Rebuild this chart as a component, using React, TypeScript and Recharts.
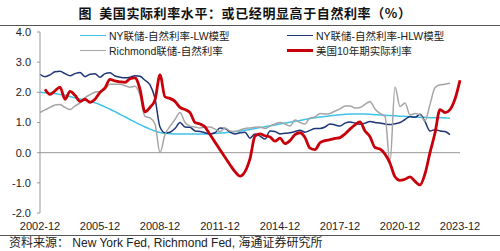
/**
 * @file App.tsx
 * @description US real rate vs. natural rate estimates (quarterly, %).
 */

import {
  LineChart,
  Line,
  XAxis,
  YAxis,
  ReferenceLine,
} from "recharts";

// ─────────────────────────────────────────
// DATA
// ─────────────────────────────────────────

const START_YEAR = 2002;
const QUARTER_COUNT = 85; // 2002-12 … 2023-12

const tickLabels = [
  "2002-12", "2005-12", "2008-12", "2011-12",
  "2014-12", "2017-12", "2020-12", "2023-12",
];

const yTicks = [-2, -1, 0, 1, 2, 3, 4];

// NY Fed – natural rate, Laubach-Williams
const nyLw = [
  2.00, 1.99, 1.98, 1.96, 1.93, 1.90, 1.86, 1.82, 1.78, 1.74, 1.70, 1.65,
  1.59, 1.52, 1.44, 1.36, 1.27, 1.19, 1.10, 1.01, 0.93, 0.85, 0.78, 0.72,
  0.67, 0.64, 0.63, 0.62, 0.62, 0.62, 0.62, 0.62, 0.62, 0.62, 0.63, 0.64,
  0.65, 0.66, 0.68, 0.70, 0.72, 0.74, 0.77, 0.80, 0.83, 0.86, 0.89, 0.92,
  0.95, 0.98, 1.01, 1.04, 1.07, 1.10, 1.13, 1.16, 1.18, 1.20, 1.22, 1.24,
  1.26, 1.27, 1.28, 1.28, 1.28, 1.28, 1.27, 1.26, 1.25, 1.24, 1.23, 1.22,
  1.21, 1.20, 1.19, 1.18, 1.17, 1.17, 1.16, 1.16, 1.16, 1.15, 1.14,
];

// NY Fed – natural rate, Holston-Laubach-Williams
const nyHlw = [
  2.60, 2.52, 2.58, 2.68, 2.70, 2.62, 2.55, 2.62, 2.66, 2.52, 2.60, 2.62,
  2.50, 2.62, 2.65, 2.54, 2.50, 2.48, 2.50, 2.55, 2.53, 2.40, 2.25, 1.80,
  0.85, 0.66, 0.68, 0.80, 1.00, 0.85, 0.84, 0.72, 0.70, 0.66, 0.62, 0.66,
  0.82, 0.80, 0.68, 0.62, 0.66, 0.68, 0.48, 0.62, 0.55, 0.45, 0.72, 0.70,
  0.62, 0.64, 0.66, 0.70, 0.74, 0.68, 0.74, 0.80, 0.80, 0.85, 0.95, 0.92,
  0.88, 0.98, 1.02, 0.98, 0.94, 0.98, 1.03, 1.00, 0.98, 0.95, 0.93, 0.96,
  1.00, 1.10, 1.20, 1.17, 1.27, 1.03, 0.72, 0.76, 0.72, 0.70, 0.60,
];

// Richmond Fed – natural rate
const richmond = [
  1.33, 1.42, 1.50, 1.58, 1.60, 1.50, 1.43, 1.55, 1.65, 1.82, 1.92, 2.00,
  2.03, 2.10, 2.27, 2.27, 2.27, 2.22, 2.17, 2.20, 1.90, 1.20, 1.15, 0.95,
  0.00, 0.60, 0.87, 1.10, 1.33, 1.00, 0.88, 0.85, 0.82, 0.85, 0.85, 0.78,
  0.70, 0.82, 0.72, 0.70, 0.75, 0.80, 0.82, 0.84, 0.85, 0.80, 0.88, 0.95,
  1.00, 0.95, 0.88, 1.08, 1.00, 0.95, 1.15, 1.18, 1.30, 1.28, 1.30, 1.38,
  1.45, 1.55, 1.55, 1.48, 1.50, 1.60, 1.70, 1.45, 1.30, 1.20, -0.33, 2.18,
  1.53, 1.65, 1.25, 1.30, 1.25, 1.05, 1.60, 2.15, 2.25, 2.27, 2.30,
];

// US 10Y real rate (TIPS)
const us10yReal = [
  null, 2.10, 1.93, 2.05, 2.17, 1.77, 2.03, 1.90, 1.70, 1.77, 1.67, 1.77,
  2.00, 2.15, 2.43, 2.38, 2.35, 2.33, 2.45, 2.48, 2.10, 1.35, 1.50, 1.75,
  2.58, 1.85, 1.80, 1.70, 1.50, 1.43, 1.33, 1.00, 0.95, 0.85, 0.60, 0.35,
  0.10, -0.15, -0.40, -0.63, -0.78, -0.63, -0.20, 0.55, 0.62, 0.56, 0.52, 0.38,
  0.48, 0.30, 0.40, 0.60, 0.66, 0.50, 0.15, 0.10, 0.33, 0.40, 0.43, 0.47,
  0.50, 0.62, 0.78, 0.92, 1.02, 0.72, 0.53, 0.17, 0.12, -0.05, -0.35, -0.80,
  -0.92, -0.88, -0.80, -0.95, -1.07, -0.70, 0.00, 0.65, 1.43, 1.33, 1.43, 1.78,
  2.40,
];

// ─────────────────────────────────────────
// SERIES CONFIG
// ─────────────────────────────────────────

const SERIES = [
  { key: "lw", name: "NY联储-自然利率-LW模型", color: "#3DC3E8", width: 1.5, values: nyLw },
  { key: "hlw", name: "NY联储-自然利率-HLW模型", color: "#1F3577", width: 1.5, values: nyHlw },
  { key: "rich", name: "Richmond联储-自然利率", color: "#A5A5A5", width: 1.5, values: richmond },
  { key: "real", name: "美国10年期实际利率", color: "#C8000A", width: 2.8, values: us10yReal },
];

// ─────────────────────────────────────────
// HELPERS
// ─────────────────────────────────────────

/** Builds "YYYY-MM" labels for each quarter-end starting 2002-12. */
const quarterLabel = (i: number) => {
  const months = 11 + i * 3; // months after Jan of START_YEAR
  const year = START_YEAR + Math.floor(months / 12);
  const month = (months % 12) + 1;
  return `${year}-${String(month).padStart(2, "0")}`;
};

const buildRows = () =>
  Array.from({ length: QUARTER_COUNT }, (_, i) => {
    const row: Record<string, string | number | null> = { date: quarterLabel(i) };
    SERIES.forEach((s) => {
      row[s.key] = i < s.values.length ? s.values[i] : null;
    });
    return row;
  });

const FONT_LATIN = '"Liberation Sans", Arial, sans-serif';
const FONT_CJK = '"Liberation Sans", "Noto Sans CJK SC", sans-serif';

// ─────────────────────────────────────────
// LEGEND
// ─────────────────────────────────────────

const LegendOverlay = () => (
  <div
    style={{
      position: "absolute",
      left: 80,
      top: 28,
      display: "grid",
      gridTemplateColumns: "207px 190px",
      gridAutoRows: "15px",
      fontFamily: FONT_CJK,
      fontSize: 10.5,
      color: "#222",
    }}
  >
    {SERIES.map((s) => (
      <div key={s.key} style={{ display: "flex", alignItems: "center" }}>
        <span
          style={{
            display: "inline-block",
            width: 26,
            height: s.width,
            background: s.color,
            marginRight: 3,
          }}
        />
        <span style={{ whiteSpace: "nowrap" }}>{s.name}</span>
      </div>
    ))}
  </div>
);

// ─────────────────────────────────────────
// APP
// ─────────────────────────────────────────

const App = () => {
  const data = buildRows();

  return (
    <div
      style={{
        position: "absolute",
        left: 0,
        top: 0,
        width: 500,
        height: 251,
        background: "#fff",
        overflow: "hidden",
      }}
    >
      {/* Title */}
      <div
        style={{
          position: "absolute",
          left: 0,
          top: 4,
          width: 490,
          textAlign: "center",
          fontFamily: '"Noto Sans CJK SC", sans-serif',
          fontWeight: 700,
          fontSize: 13,
          letterSpacing: 0.6,
          lineHeight: "18px",
          color: "#111",
        }}
      >
        图&nbsp;&nbsp;美国实际利率水平：或已经明显高于自然利率（%）
      </div>
      <div style={{ position: "absolute", left: 0, top: 25, width: 500, height: 1, background: "#555" }} />

      <LineChart
        width={500}
        height={251}
        data={data}
        margin={{ top: 32, right: 40, left: 0, bottom: 18 }}
        style={{ position: "absolute", left: 0, top: 0 }}
      >
        <XAxis
          dataKey="date"
          ticks={tickLabels}
          interval={0}
          height={20}
          axisLine={false}
          tickLine={false}
          tickMargin={3}
          tick={{ fontSize: 11, fill: "#222", fontFamily: FONT_LATIN }}
        />
        <YAxis
          domain={[-2, 4]}
          ticks={yTicks}
          width={40}
          interval={0}
          tickFormatter={(v: number) => v.toFixed(1)}
          axisLine={{ stroke: "#999" }}
          tickLine={{ stroke: "#999" }}
          tickSize={3}
          tickMargin={6}
          tick={{ fontSize: 11, fill: "#222", fontFamily: FONT_LATIN }}
        />
        <ReferenceLine y={0} stroke="#999" strokeWidth={1} />

        {SERIES.map((s) => (
          <Line
            key={s.key}
            type="monotone"
            dataKey={s.key}
            stroke={s.color}
            strokeWidth={s.width}
            dot={false}
            activeDot={false}
            connectNulls={false}
            isAnimationActive={false}
          />
        ))}
      </LineChart>

      <LegendOverlay />

      {/* Source */}
      <div style={{ position: "absolute", left: 0, top: 235, width: 500, height: 1, background: "#555" }} />
      <div
        style={{
          position: "absolute",
          left: 9,
          top: 236,
          fontFamily: FONT_CJK,
          fontSize: 12,
          lineHeight: "14px",
          color: "#222",
          whiteSpace: "nowrap",
        }}
      >
        资料来源：&nbsp;New York Fed, Richmond Fed,&nbsp;海通证券研究所
      </div>
    </div>
  );
};

export default App;
